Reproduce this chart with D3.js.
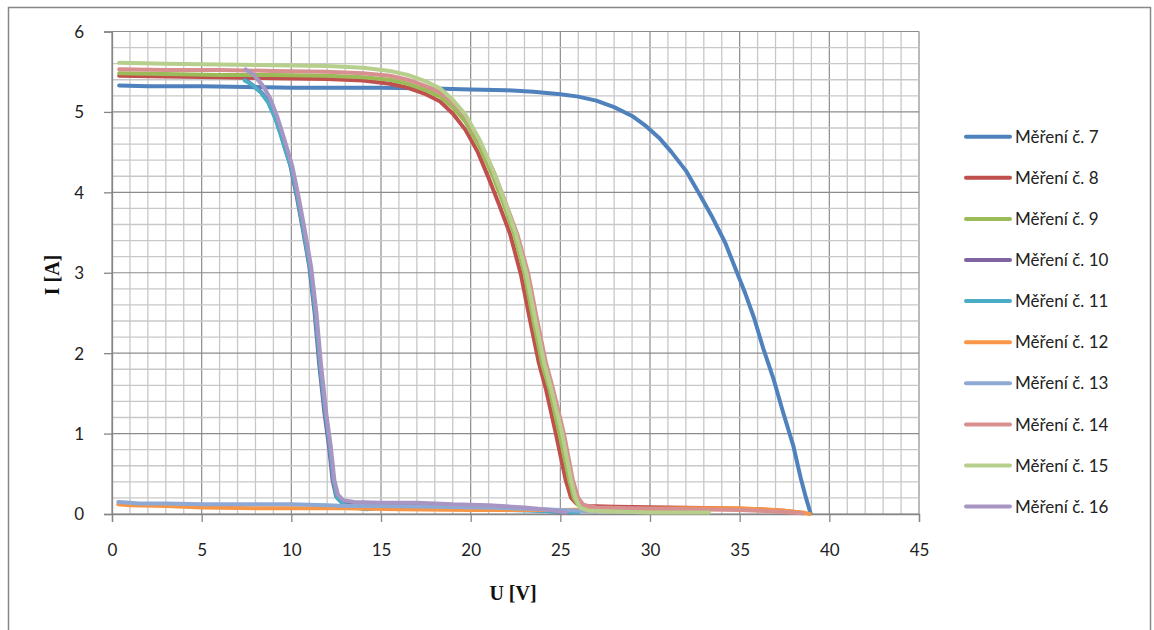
<!DOCTYPE html>
<html>
<head>
<meta charset="utf-8">
<script src="https://cdn.jsdelivr.net/npm/d3@7/dist/d3.min.js"></script>
<style>
  html, body { margin: 0; padding: 0; background: #fff; }
  svg { display: block; }
  .tick text { font-family: Lato, "Open Sans", sans-serif; font-size: 17px; fill: #222; }
  .title { font-family: "Liberation Serif", "Times New Roman", serif; font-weight: bold; font-size: 20px; fill: #111; }
  .legend text { font-family: Lato, "Open Sans", sans-serif; font-size: 17px; fill: #222; }
</style>
</head>
<body>
<svg id="chart" width="1154" height="630"></svg>
<script>
// Tick labels of both axes
const xTicks = [0, 5, 10, 15, 20, 25, 30, 35, 40, 45];
const yTicks = [0, 1, 2, 3, 4, 5, 6];

// Series names and colours
const seriesNames = ["Měření č. 7", "Měření č. 8", "Měření č. 9", "Měření č. 10", "Měření č. 11",
                     "Měření č. 12", "Měření č. 13", "Měření č. 14", "Měření č. 15", "Měření č. 16"];
const seriesColors = ["#4F81BD", "#C0504D", "#9BBB59", "#8064A2", "#4BACC6",
                      "#F79646", "#8FA9D5", "#D7908F", "#B7CF8C", "#A796C4"];

// I-V measurements: [U (V), I (A)]
const m7 = [[0.4,5.33],[2,5.32],[5,5.32],[7.5,5.31],[10,5.30],[12,5.30],[15,5.30],[18,5.29],[20,5.28],
  [22,5.27],[23.5,5.25],[25,5.22],[26,5.19],[27,5.14],[28,5.06],[29,4.95],[29.8,4.82],[30.5,4.68],
  [31.2,4.50],[32,4.27],[32.8,3.96],[33.5,3.68],[34.2,3.37],[34.8,3.03],[35.3,2.75],[35.8,2.44],
  [36.3,2.07],[36.9,1.67],[37.4,1.28],[38.0,0.84],[38.4,0.45],[38.7,0.20],[38.95,0.01]];
const m8 = [[0.4,5.45],[3,5.44],[6,5.43],[9,5.42],[12,5.41],[14,5.39],[15.5,5.35],[16.5,5.30],
  [17.5,5.22],[18.3,5.13],[19,4.98],[19.7,4.78],[20.4,4.50],[21.0,4.18],[21.6,3.84],[22.2,3.48],
  [22.8,2.98],[23.3,2.42],[23.8,1.88],[24.2,1.55],[24.75,1.0],[25.3,0.42],[25.6,0.2],[25.9,0.13],
  [26.5,0.10],[28,0.09],[31,0.08],[34,0.07],[36,0.06],[37.5,0.04],[38.6,0.01]];
const m9 = [[0.4,5.48],[3,5.47],[6,5.46],[9,5.46],[12,5.45],[14,5.43],[15.5,5.40],[16.5,5.35],
  [17.5,5.27],[18.3,5.19],[19,5.06],[19.7,4.88],[20.5,4.56],[21.2,4.22],[21.8,3.88],[22.4,3.50],
  [23.0,3.0],[23.5,2.4],[24.0,1.85],[24.4,1.55],[24.95,1.0],[25.5,0.42],[25.75,0.2],[26.0,0.11],
  [26.5,0.07],[28,0.06],[31,0.05],[33,0.04]];
const m10 = [[7.45,5.40],[7.8,5.34],[8.3,5.25],[8.7,5.14],[9.1,4.94],[9.4,4.74],[9.7,4.52],[9.95,4.33],
  [10.3,3.95],[10.65,3.53],[11.0,3.08],[11.3,2.50],[11.55,1.87],[11.85,1.25],[12.1,0.84],[12.3,0.42],
  [12.5,0.22],[12.8,0.15],[13.5,0.13],[15,0.12],[17,0.11],[20,0.09],[22,0.07],[24,0.04],[25.5,0.02]];
const m11 = [[7.4,5.39],[7.8,5.34],[8.3,5.24],[8.7,5.12],[9.1,4.92],[9.4,4.72],[9.7,4.50],[10.0,4.30],
  [10.35,3.93],[10.7,3.50],[11.05,3.05],[11.35,2.48],[11.6,1.85],[11.9,1.25],[12.15,0.84],[12.35,0.42],
  [12.55,0.2],[12.9,0.12],[13.5,0.08],[14.2,0.06],[15,0.08],[18,0.07],[22,0.05],[25,0.03],[26,0.02]];
const m12 = [[0.35,0.12],[1,0.11],[3,0.10],[5,0.08],[8,0.07],[10,0.07],[13,0.07],[16,0.06],[20,0.05],
  [25,0.05],[28,0.06],[32,0.07],[35,0.07],[37,0.05],[38.5,0.02],[38.9,0.0]];
const m13 = [[0.35,0.15],[1,0.14],[1.5,0.13],[3,0.13],[5,0.12],[8,0.12],[10,0.12],[12,0.11],[13,0.10],
  [15,0.10],[18,0.09],[21,0.08],[24,0.06],[26,0.04],[27,0.03]];
const m14 = [[0.4,5.53],[3,5.52],[6,5.52],[9,5.51],[12,5.50],[14,5.48],[15.5,5.45],[16.5,5.40],
  [17.5,5.32],[18.3,5.24],[19,5.12],[19.7,4.95],[20.5,4.64],[21.3,4.25],[21.9,3.90],[22.6,3.48],
  [23.2,3.0],[23.7,2.42],[24.2,1.88],[24.6,1.55],[25.2,1.0],[25.7,0.42],[26.0,0.2],[26.3,0.11],
  [27,0.08],[29,0.07],[32,0.06],[35,0.05],[37,0.03],[38.5,0.01]];
const m15 = [[0.4,5.61],[3,5.60],[6,5.59],[9,5.58],[12,5.57],[14,5.55],[15.5,5.51],[16.5,5.46],
  [17.5,5.38],[18.3,5.29],[19,5.15],[19.7,4.97],[20.5,4.65],[21.2,4.30],[21.8,3.95],[22.5,3.50],
  [23.1,3.0],[23.6,2.42],[24.1,1.88],[24.5,1.55],[25.1,1.0],[25.6,0.42],[25.85,0.2],[26.1,0.08],
  [26.6,0.04],[28,0.03],[30,0.02],[33.3,0.02]];
const m16 = [[7.45,5.53],[7.9,5.46],[8.4,5.33],[8.8,5.18],[9.2,4.95],[9.5,4.74],[9.8,4.52],[10.05,4.33],
  [10.4,3.95],[10.75,3.53],[11.1,3.08],[11.4,2.50],[11.65,1.87],[11.95,1.25],[12.2,0.84],[12.4,0.42],
  [12.6,0.24],[12.9,0.17],[13.5,0.15],[15,0.14],[17,0.14],[19,0.12],[21,0.11],[23,0.08],[24.5,0.05],[25.3,0.02]];

const seriesData = [m7, m8, m9, m10, m11, m12, m13, m14, m15, m16];

const svg = d3.select("#chart");

// outer chart frame
svg.append("rect")
  .attr("x", 8.5).attr("y", 7.5).attr("width", 1142).attr("height", 640)
  .attr("fill", "#fff").attr("stroke", "#878787").attr("stroke-width", 1.5);

const x = d3.scaleLinear().domain([0, 45]).range([112, 919]);
const y = d3.scaleLinear().domain([0, 6]).range([514, 31.5]);

// grid: minor every 1 V / 0.2 A, major every 5 V / 1 A
const grid = svg.append("g");
d3.range(0, 45.001, 1).forEach(v => {
  const major = Math.abs(v % 5) < 1e-6;
  grid.append("line")
    .attr("x1", x(v)).attr("x2", x(v)).attr("y1", y(0)).attr("y2", y(6))
    .attr("stroke", major ? "#8c8c8c" : "#c8c8c8").attr("stroke-width", major ? 1.2 : 1.3);
});
d3.range(0, 6.001, 0.2).forEach(a => {
  const major = Math.abs(a - Math.round(a)) < 1e-6;
  grid.append("line")
    .attr("x1", x(0)).attr("x2", x(45)).attr("y1", y(a)).attr("y2", y(a))
    .attr("stroke", major ? "#8c8c8c" : "#c8c8c8").attr("stroke-width", major ? 1.2 : 1.3);
});

// axes
const xAxis = svg.append("g").attr("transform", `translate(0,${y(0)})`)
  .call(d3.axisBottom(x).tickValues(xTicks).tickSize(8).tickPadding(22).tickFormat(d3.format("d")));
const yAxis = svg.append("g").attr("transform", `translate(${x(0)},0)`)
  .call(d3.axisLeft(y).tickValues(yTicks).tickSize(8).tickPadding(20).tickFormat(d3.format("d")));
[xAxis, yAxis].forEach(g => {
  g.select(".domain").attr("stroke", "#868686").attr("stroke-width", 1.3);
  g.selectAll(".tick line").attr("stroke", "#868686").attr("stroke-width", 1.3);
});
yAxis.selectAll(".tick text").attr("dy", "0.35em");

// curves
const line = d3.line().x(d => x(d[0])).y(d => y(d[1]));
svg.append("g").selectAll("path")
  .data(seriesData)
  .join("path")
  .attr("d", line)
  .attr("fill", "none")
  .attr("stroke", (d, i) => seriesColors[i])
  .attr("stroke-width", 4)
  .attr("stroke-linejoin", "round")
  .attr("stroke-linecap", "round");

// axis titles
svg.append("text").attr("class", "title")
  .attr("x", 513).attr("y", 600).attr("text-anchor", "middle").text("U [V]");
svg.append("text").attr("class", "title")
  .attr("transform", "translate(59,275) rotate(-90)")
  .attr("text-anchor", "middle").text("I [A]");

// legend
const legend = svg.append("g").attr("class", "legend");
seriesNames.forEach((name, i) => {
  const ly = 136.7 + i * 41.1;
  legend.append("line")
    .attr("x1", 966).attr("x2", 1010).attr("y1", ly).attr("y2", ly)
    .attr("stroke", seriesColors[i]).attr("stroke-width", 4).attr("stroke-linecap", "round");
  legend.append("text").attr("x", 1015).attr("y", ly).attr("dy", "0.36em").text(name);
});
</script>
</body>
</html>
